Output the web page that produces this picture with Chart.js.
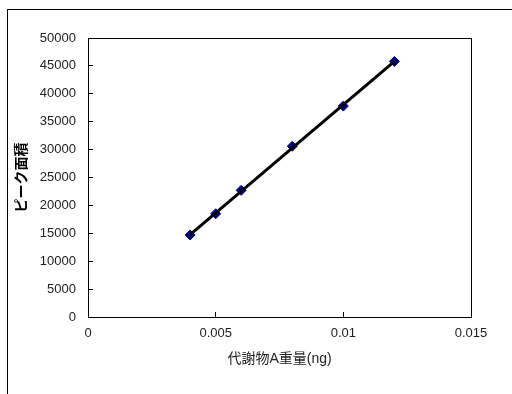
<!DOCTYPE html>
<html>
<head>
<meta charset="utf-8">
<script src="https://cdn.jsdelivr.net/npm/chart.js@4/dist/chart.umd.min.js"></script>
<style>
    body { margin: 0; background: #fff; }
    #wrap { position: relative; width: 512px; height: 394px; overflow: hidden; }
    #frame { position: absolute; left: 7px; top: 9px; width: 520px; height: 400px; border-left: 1px solid #000; border-top: 1px solid #000; }
    canvas { position: absolute; left: 0; top: 0; }
</style>
</head>
<body>
<div id="wrap">
    <div id="frame"></div>
    <canvas id="grafico" width="512" height="394"></canvas>
</div>
<script>
// valores
const xValores = [0.004, 0.005, 0.006, 0.008, 0.01, 0.012];
const yValores = [14700, 18500, 22700, 30600, 37800, 45800];

const xTicks = [0, 0.005, 0.01, 0.015];
const xTickLabels = ['0', '0.005', '0.01', '0.015'];
const yTicks = [0, 5000, 10000, 15000, 20000, 25000, 30000, 35000, 40000, 45000, 50000];
const yTickLabels = ['0', '5000', '10000', '15000', '20000', '25000', '30000', '35000', '40000', '45000', '50000'];

const tituloX = '代謝物A重量(ng)';
const tituloY = 'ピーク面積';

// linha de tendência (mínimos quadrados)
const n = xValores.length;
const mx = xValores.reduce((a, b) => a + b, 0) / n;
const my = yValores.reduce((a, b) => a + b, 0) / n;
let sxx = 0, sxy = 0;
xValores.forEach((x, i) => { sxx += (x - mx) * (x - mx); sxy += (x - mx) * (yValores[i] - my); });
const inclinacao = sxy / sxx;
const xMin = Math.min(...xValores), xMax = Math.max(...xValores);
const tendencia = [xMin, xMax].map(x => ({ x: x, y: my + inclinacao * (x - mx) }));

const fonte = '"Liberation Sans", "Noto Sans CJK JP", sans-serif';

const bordaArea = {
    id: 'bordaArea',
    beforeDatasetsDraw(chart) {
        const a = chart.chartArea;
        const ctx = chart.ctx;
        ctx.save();
        ctx.strokeStyle = '#000';
        ctx.lineWidth = 1;
        ctx.strokeRect(Math.round(a.left) + 0.5, Math.round(a.top) + 0.5, Math.round(a.right - a.left), Math.round(a.bottom - a.top));
        ctx.restore();
    }
};

new Chart(document.getElementById('grafico').getContext('2d'), {
    type: 'scatter',
    data: {
        datasets: [
            {
                label: 'tendencia',
                data: tendencia,
                showLine: true,
                borderColor: '#000',
                borderWidth: 3,
                pointRadius: 0,
                order: 0
            },
            {
                label: 'dados',
                data: xValores.map((x, i) => ({ x: x, y: yValores[i] })),
                pointStyle: 'rectRot',
                pointRadius: 5,
                backgroundColor: '#000080',
                borderColor: '#000080',
                borderWidth: 1,
                order: 1
            }
        ]
    },
    options: {
        responsive: false,
        animation: false,
        events: [],
        layout: { padding: { top: 38, right: 41, left: 0, bottom: 0 } },
        plugins: { legend: { display: false }, tooltip: { enabled: false } },
        scales: {
            x: {
                type: 'linear',
                min: 0,
                max: 0.015,
                afterBuildTicks: s => { s.ticks = xTicks.map(v => ({ value: v })); },
                afterFit: s => { s.height = 77; },
                border: { display: false },
                grid: { drawOnChartArea: false, drawTicks: true, tickLength: -5, color: '#000' },
                ticks: {
                    padding: 14,
                    maxRotation: 0,
                    autoSkip: false,
                    color: '#222',
                    font: { family: fonte, size: 13 },
                    callback: (v, i) => xTickLabels[i]
                },
                title: {
                    display: true,
                    text: tituloX,
                    color: '#222',
                    font: { family: fonte, size: 14 },
                    padding: { top: 0, bottom: 26 }
                }
            },
            y: {
                type: 'linear',
                min: 0,
                max: 50000,
                afterBuildTicks: s => { s.ticks = yTicks.map(v => ({ value: v })); },
                afterFit: s => { s.width = 88; },
                border: { display: false },
                grid: { drawOnChartArea: false, drawTicks: true, tickLength: -5, color: '#000' },
                ticks: {
                    padding: 17,
                    autoSkip: false,
                    color: '#222',
                    font: { family: fonte, size: 13 },
                    callback: (v, i) => yTickLabels[i]
                },
                title: {
                    display: true,
                    text: tituloY,
                    color: '#000',
                    font: { family: fonte, size: 14, weight: 'bold' },
                    padding: { top: 14, bottom: 0 }
                }
            }
        }
    },
    plugins: [bordaArea]
});
</script>
</body>
</html>
